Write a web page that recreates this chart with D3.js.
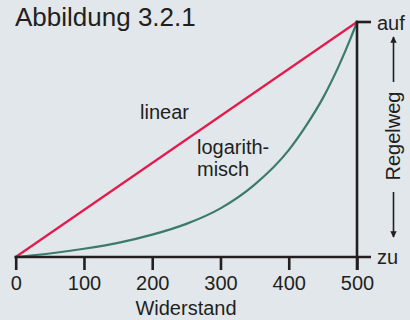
<!DOCTYPE html>
<html>
<head>
<meta charset="utf-8">
<script src="https://cdn.jsdelivr.net/npm/d3@7"></script>
<style>
  html, body { margin: 0; padding: 0; background: #e2e7eb; }
  svg { display: block; }
  text { font-family: "Liberation Sans", Arial, sans-serif; fill: #231f20; }
</style>
</head>
<body>
<svg id="chart" width="410" height="320"></svg>
<script>
// Widerstand (Ohm) against Regelweg (% of travel, zu = 0, auf = 100)
const xTicks = [0, 100, 200, 300, 400, 500];
const linearX = [0, 500];
const linearY = [0, 100];
const logX = [0, 50, 100, 150, 200, 250, 300, 350, 400, 425, 450, 475, 490, 500];
const logY = [0, 1.5, 3.5, 6.0, 9.5, 14.1, 20.7, 30.8, 45.5, 55.7, 67.6, 82.4, 92.6, 100];
const title = "Abbildung 3.2.1";
const xTitle = "Widerstand";
const yTitle = "Regelweg";
const yEndLabels = ["zu", "auf"];

const svg = d3.select("#chart");
const ink = "#231f20";

const x = d3.scaleLinear().domain([0, 500]).range([15.7, 357]);
const y = d3.scaleLinear().domain([0, 100]).range([257, 22]);

// Title
svg.append("text").attr("x", 15).attr("y", 26)
  .attr("font-size", 26).text(title);

// Curves
const line = d3.line().x(d => x(d[0])).y(d => y(d[1]));
svg.append("path")
  .attr("d", line(d3.zip(linearX, linearY)))
  .attr("fill", "none").attr("stroke", "#e21b4c").attr("stroke-width", 2.2);
svg.append("path")
  .attr("d", line.curve(d3.curveMonotoneX)(d3.zip(logX, logY)))
  .attr("fill", "none").attr("stroke", "#3b7a6c").attr("stroke-width", 2.2);

// Curve labels
svg.append("text").attr("x", 140).attr("y", 119).attr("font-size", 20).text("linear");
svg.append("text").attr("x", 197).attr("y", 154).attr("font-size", 20).text("logarith-");
svg.append("text").attr("x", 197).attr("y", 176).attr("font-size", 20).text("misch");

// X axis
const xAxis = d3.axisBottom(x).tickValues(xTicks).tickSize(13).tickPadding(6).tickSizeOuter(0);
const gx = svg.append("g").attr("transform", `translate(0,${y(0)})`).call(xAxis);
gx.select(".domain").remove();
gx.selectAll(".tick line").attr("stroke", ink).attr("stroke-width", 2.6);
gx.selectAll(".tick text").attr("font-size", 20).attr("fill", ink)
  .attr("font-family", "Liberation Sans, Arial, sans-serif");
svg.append("line").attr("x1", x(0) - 1.3).attr("x2", 371)
  .attr("y1", y(0)).attr("y2", y(0)).attr("stroke", ink).attr("stroke-width", 2.6);
svg.append("text").attr("x", 186).attr("y", 315).attr("text-anchor", "middle")
  .attr("font-size", 20).text(xTitle);

// Right axis at 500 with the "auf" cap
svg.append("line").attr("x1", x(500)).attr("x2", x(500))
  .attr("y1", y(100) - 1.3).attr("y2", y(0) + 13)
  .attr("stroke", ink).attr("stroke-width", 2.6);
svg.append("line").attr("x1", x(500) - 1.3).attr("x2", 371)
  .attr("y1", y(100)).attr("y2", y(100)).attr("stroke", ink).attr("stroke-width", 2.6);

svg.append("text").attr("x", 377).attr("y", y(100) + 8).attr("font-size", 20).text(yEndLabels[1]);
svg.append("text").attr("x", 377).attr("y", y(0) + 7).attr("font-size", 20).text(yEndLabels[0]);

// Regelweg label with arrows
svg.append("text").attr("transform", "translate(400,136) rotate(-90)")
  .attr("text-anchor", "middle").attr("font-size", 20).text(yTitle);

const defs = svg.append("defs");
defs.append("marker").attr("id", "head").attr("viewBox", "0 0 10 10")
  .attr("refX", 9).attr("refY", 5).attr("markerWidth", 4).attr("markerHeight", 4.5)
  .attr("markerUnits", "strokeWidth").attr("orient", "auto")
  .append("path").attr("d", "M0,0 L10,5 L0,10 Z").attr("fill", ink);

svg.append("line").attr("x1", 393.5).attr("x2", 393.5).attr("y1", 82).attr("y2", 37)
  .attr("stroke", ink).attr("stroke-width", 1.6).attr("marker-end", "url(#head)");
svg.append("line").attr("x1", 393.5).attr("x2", 393.5).attr("y1", 192).attr("y2", 237)
  .attr("stroke", ink).attr("stroke-width", 1.6).attr("marker-end", "url(#head)");
</script>
</body>
</html>
